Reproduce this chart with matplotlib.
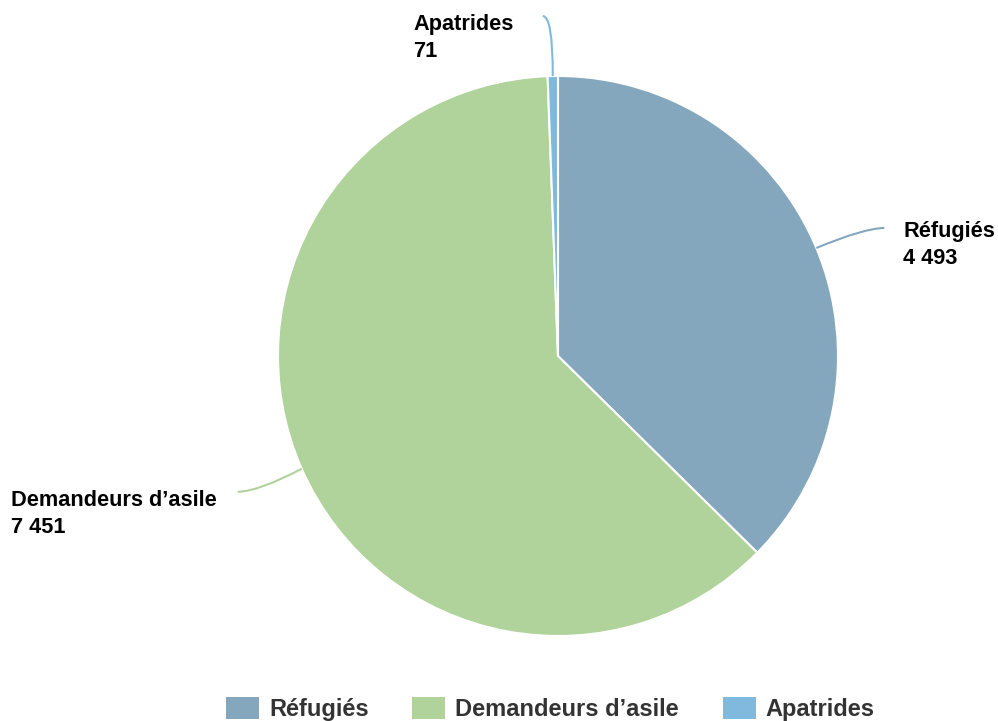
import numpy as np
import matplotlib
matplotlib.use("Agg")
import matplotlib.pyplot as plt  # noqa: E402
from matplotlib.path import Path  # noqa: E402
from matplotlib.patches import PathPatch, Patch  # noqa: E402

categories = ["Réfugiés", "Demandeurs d’asile", "Apatrides"]
values = [4493, 7451, 71]
value_labels = ["4 493", "7 451", "71"]
colors = ["#85a7bd", "#b0d29b", "#7fbade"]

# connector layout, pixels: end offset from wedge edge, control offset from end,
# label side, horizontal gap and drop of the value line's baseline below the end
connectors = [
    {"end": (68, 20), "ctrl": (-20, 0), "side": "right", "gap": 19, "drop": 36},
    {"end": (-64, -23), "ctrl": (20, 0), "side": "left", "gap": 21, "drop": 41},
    {"end": (-10, 60), "ctrl": (10, 0), "side": "left", "gap": 29, "drop": 41},
]

plt.rcParams["font.family"] = ["Liberation Sans", "DejaVu Sans"]

W, H = 998, 721
fig = plt.figure(figsize=(W / 100, H / 100), dpi=100)
ax = fig.add_axes([0, 0, 1, 1])

cx, cy, r = 558, 365, 280
wedges, _ = ax.pie(values, colors=colors, startangle=90, counterclock=False,
                   center=(cx, cy), radius=r, frame=True,
                   wedgeprops=dict(edgecolor="white", linewidth=1.5))
ax.set_xlim(0, W)
ax.set_ylim(0, H)
ax.set_aspect("equal")
ax.axis("off")

for w, name, lab, col, cn in zip(wedges, categories, value_labels, colors, connectors):
    mid = np.deg2rad((w.theta1 + w.theta2) / 2)
    x0, y0 = cx + r * np.cos(mid), cy + r * np.sin(mid)
    x1, y1 = x0 + cn["end"][0], y0 + cn["end"][1]
    xc, yc = x1 + cn["ctrl"][0], y1 + cn["ctrl"][1]
    path = Path([(x0, y0), (xc, yc), (x1, y1)],
                [Path.MOVETO, Path.CURVE3, Path.CURVE3])
    ax.add_patch(PathPatch(path, fc="none", ec=col, lw=1.5))
    if cn["side"] == "right":
        tx, ha = x1 + cn["gap"], "left"
    else:
        tx, ha = x1 - cn["gap"], "right"
    ax.text(tx, y1 - cn["drop"], f"{name}\n{lab}", ha=ha, va="baseline",
            multialignment="left", linespacing=1.38, fontsize=15.7,
            fontweight="bold", color="black")

handles = [Patch(facecolor=c, edgecolor="none", label=n) for c, n in zip(colors, categories)]
fig.legend(handles=handles, loc="lower left", bbox_to_anchor=(226 / W, 0 / H),
           ncol=3, frameon=False, handlelength=1.4, handleheight=1.06,
           handletextpad=0.42, columnspacing=1.85, borderpad=0, borderaxespad=0,
           labelcolor="#333333", prop={"weight": "bold", "size": 17})

fig.savefig("out.png", dpi=100)
plt.close(fig)
